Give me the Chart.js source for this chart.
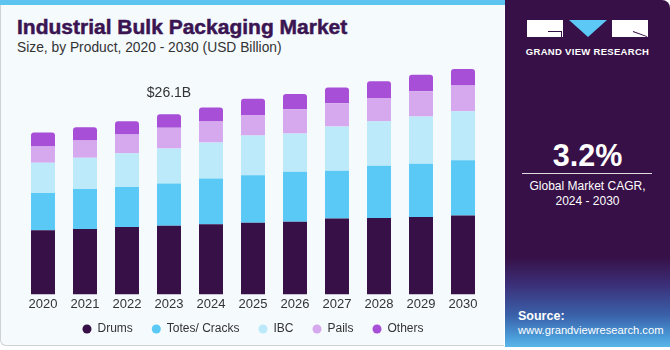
<!DOCTYPE html>
<html><head><meta charset="utf-8">
<script src="https://cdn.jsdelivr.net/npm/chart.js@4.4.1/dist/chart.umd.min.js"></script>
<style>
html,body{margin:0;padding:0;width:670px;height:350px;overflow:hidden;background:#fff;font-family:"Liberation Sans",Arial,sans-serif;}
#left{position:absolute;left:0;top:0;width:504px;height:346px;background:#f5fafd;border-left:1px solid #cfd3d6;border-bottom:1px solid #cfd3d6;border-bottom-left-radius:6px;box-sizing:border-box;}
#topbar{position:absolute;left:0;top:0;width:510px;height:5px;background:#5cc4ee;}
#title{position:absolute;left:17px;top:15px;font-size:21px;font-weight:bold;color:#3a1552;-webkit-text-stroke:0.5px #3a1552;}
#sub{position:absolute;left:17px;top:40px;font-size:13.8px;color:#333;}
#right{position:absolute;left:505px;top:0;width:165px;height:347px;background:linear-gradient(to bottom,#371047 0%,#371047 74%,#3b2f78 82%,#3a62aa 91%,#4a9ad8 97%,#5ab6e8 100%);border-top-right-radius:8px;}
#cv{position:absolute;left:0;top:58px;}
.w{position:absolute;color:#fff;text-align:center;width:165px;left:0;}
</style></head><body>
<div id="left"></div>
<div id="topbar"></div>
<div id="title">Industrial Bulk Packaging Market</div>
<div id="sub">Size, by Product, 2020 - 2030 (USD Billion)</div>
<div id="right">
  <div style="position:absolute;left:22px;top:20px;width:36px;height:17px;background:#fff;"></div>
  <div style="position:absolute;left:43px;top:31px;width:14px;height:1px;background:#371047;"></div>
  <div style="position:absolute;left:56px;top:31px;width:1px;height:6px;background:#371047;"></div>
  <div style="position:absolute;left:64px;top:20px;width:0;height:0;border-left:19px solid transparent;border-right:19px solid transparent;border-top:17px solid #5bc8f5;"></div>
  <div style="position:absolute;left:107px;top:20px;width:36px;height:17px;background:#fff;"></div>
  <div style="position:absolute;left:128px;top:31px;width:15px;height:1px;background:#371047;transform:rotate(20deg);transform-origin:left;"></div>
  <div class="w" style="top:46px;font-size:9.5px;font-weight:bold;letter-spacing:0.3px;">GRAND VIEW RESEARCH</div>
  <div class="w" style="top:138px;font-size:30.5px;font-weight:bold;">3.2%</div>
  <div style="position:absolute;left:17px;top:173px;width:130px;height:1px;background:#ddd;"></div>
  <div class="w" style="top:179px;font-size:12px;line-height:15px;">Global Market CAGR,<br>2024 - 2030</div>
  <div style="position:absolute;left:13px;top:309px;color:#fff;font-size:12.5px;font-weight:bold;">Source:</div>
  <div style="position:absolute;left:13px;top:324px;color:#fff;font-size:11.2px;">www.grandviewresearch.com</div>
</div>
<canvas id="cv" width="505" height="287"></canvas>
<script>
const categories = ["2020","2021","2022","2023","2024","2025","2026","2027","2028","2029","2030"];
const drums  = [9.31, 9.46, 9.75, 9.96, 10.15, 10.39, 10.54, 10.98, 11.07, 11.21, 11.42];
const totes  = [5.37, 5.81, 5.81, 6.09, 6.63, 6.88, 7.22, 6.93, 7.57, 7.72, 8.00];
const ibc    = [4.39, 4.54, 4.88, 5.08, 5.23, 5.76, 5.56, 6.40, 6.44, 6.84, 7.13];
const pails  = [2.34, 2.49, 2.73, 3.03, 3.03, 2.97, 3.51, 3.37, 3.37, 3.66, 3.70];
const others = [2.05, 1.90, 1.90, 1.95, 2.05, 2.34, 2.20, 2.28, 2.44, 2.39, 2.40];
const seriesNames = ["Drums","Totes/ Cracks","IBC","Pails","Others"];
const colors = ["#381048","#5bc9f6","#bdeafa","#d6a9ee","#a74fd7"];
const annotation = {index:3, text:"$26.1B"};

const series=[drums,totes,ibc,pails,others];
const datasets=series.map((d,i)=>({
  label:seriesNames[i],data:d,backgroundColor:colors[i],
  borderWidth:0,
  borderRadius: i===4?{topLeft:3,topRight:3,bottomLeft:0,bottomRight:0}:0,
  borderSkipped:false,
  categoryPercentage:1,barPercentage:0.571
}));
const LEG_SHIFT=10;
const legendTweak={id:'legTweak',afterInit(chart){
  const lg=chart.legend; if(!lg) return;
  const of=lg.fit.bind(lg); lg.fit=function(){of(); this.height-=LEG_SHIFT;};
  const od=lg.draw.bind(lg); lg.draw=function(){const c=this.ctx;c.save();c.translate(0,-LEG_SHIFT);od();c.restore();};
}};
const labelPlugin={id:'lbl',afterDatasetsDraw(chart){
  const ctx=chart.ctx;const xs=chart.scales.x, ys=chart.scales.y;
  const i=annotation.index;let tot=0;series.forEach(s=>tot+=s[i]);
  ctx.save();ctx.font='14px "Liberation Sans", Arial, sans-serif';ctx.fillStyle='#333';
  ctx.textAlign='center';ctx.textBaseline='middle';
  ctx.fillText(annotation.text,xs.getPixelForValue(i),ys.getPixelForValue(tot)-21);
  ctx.restore();
}};
new Chart(document.getElementById('cv'),{
  type:'bar',
  data:{labels:categories,datasets},
  plugins:[legendTweak,labelPlugin],
  options:{
    responsive:false,animation:false,
    layout:{padding:{left:22,right:21,top:0,bottom:0}},
    plugins:{
      legend:{position:'bottom',labels:{usePointStyle:true,pointStyle:'circle',boxWidth:9,boxHeight:6.4,padding:19,color:'#333',font:{size:12,family:'"Liberation Sans", Arial, sans-serif'}}},
      tooltip:{enabled:false}
    },
    scales:{
      x:{stacked:true,grid:{display:false,drawTicks:false},border:{display:false},ticks:{color:'#333',padding:2,font:{size:13,family:'"Liberation Sans", Arial, sans-serif'}}},
      y:{stacked:true,display:false,min:0,max:34.25}
    }
  }
});
</script>
</body></html>
